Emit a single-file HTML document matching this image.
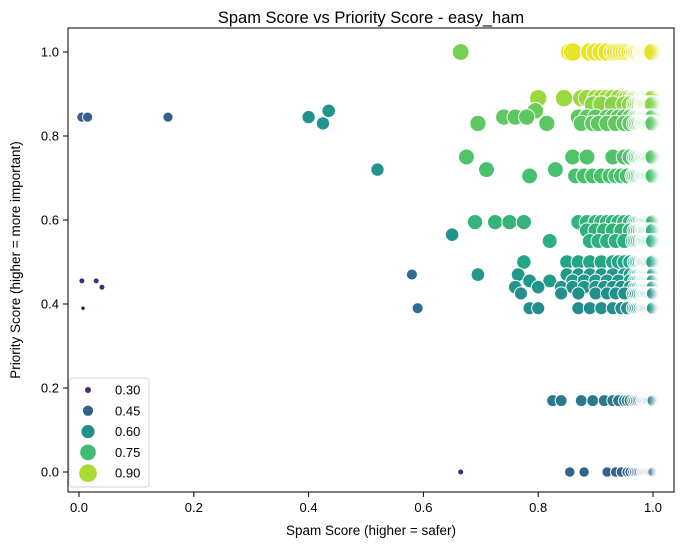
<!DOCTYPE html>
<html><head><meta charset="utf-8"><style>
html,body{margin:0;padding:0;background:#fff;}
svg text{font-family:"Liberation Sans","DejaVu Sans",sans-serif;}
</style></head><body>
<svg id="chart" width="691" height="547" viewBox="0 0 691 547" xmlns="http://www.w3.org/2000/svg">
<rect width="691" height="547" fill="#fff"/>
<text x="371" y="23" text-anchor="middle" font-size="16.5">Spam Score vs Priority Score - easy_ham</text>
<g id="points"></g>
<rect x="68" y="28" width="606" height="464" fill="none" stroke="#000" stroke-width="1"/>
<g id="xticks"></g>
<g id="yticks"></g>
<text x="371" y="535" text-anchor="middle" font-size="13.5">Spam Score (higher = safer)</text>
<text transform="translate(20,260) rotate(-90)" text-anchor="middle" font-size="13.5">Priority Score (higher = more important)</text>
<g id="legend"></g>
</svg>
<script>
const rowPriority = [1.0,1.0,0.89,0.875,0.86,0.86,0.845,0.845,0.845,0.83,0.83,0.75,0.72,0.72,0.705,0.595,0.575,0.565,0.55,0.5,0.47,0.47,0.455,0.44,0.455,0.44,0.425,0.39,0.39,0.39,0.17,0.0,0.0];
const rowHue = [0.97,0.84,0.88,0.86,0.62,0.82,0.45,0.61,0.8,0.61,0.8,0.78,0.61,0.77,0.77,0.73,0.72,0.62,0.71,0.68,0.49,0.63,0.3,0.3,0.64,0.62,0.6,0.2,0.49,0.6,0.53,0.3,0.46];
const rowSpam = [
[0.855,0.86,0.89,0.9,0.91,0.92,0.93,0.935,0.94,0.945,0.95,0.955,0.96,0.965,0.97],
[0.665],
[0.80,0.845,0.875,0.885,0.9,0.91,0.92,0.93,0.94,0.95,0.955,0.96,0.965],
[0.895,0.91,0.93,0.95,0.96],
[0.435],
[0.795],
[0.005,0.015,0.155],
[0.40],
[0.74,0.76,0.78,0.87,0.885,0.9,0.92,0.93,0.94,0.95,0.96],
[0.425],
[0.695,0.815,0.875,0.895,0.905,0.92,0.935,0.95,0.96],
[0.675,0.86,0.885,0.93,0.95,0.96],
[0.52],
[0.71,0.83],
[0.785,0.865,0.88,0.895,0.91,0.925,0.935,0.945,0.955,0.965],
[0.69,0.725,0.75,0.775,0.87,0.885,0.9,0.91,0.92,0.93,0.94,0.95,0.96],
[0.885,0.9,0.915,0.93,0.945,0.96],
[0.65],
[0.82,0.89,0.905,0.92,0.935,0.95,0.965],
[0.775,0.85,0.87,0.89,0.91,0.93,0.94,0.95,0.96],
[0.58],
[0.695,0.765,0.85,0.87,0.89,0.91,0.93,0.95,0.96],
[0.005,0.03],
[0.04],
[0.785,0.82,0.86,0.88,0.9,0.92,0.94,0.96],
[0.76,0.8,0.84,0.86,0.88,0.9,0.915,0.93,0.945,0.96],
[0.77,0.84,0.87,0.9,0.92,0.935,0.95,0.965],
[0.007],
[0.59],
[0.785,0.80,0.87,0.89,0.91,0.93,0.945,0.955,0.965],
[0.825,0.84,0.875,0.895,0.915,0.93,0.94,0.95,0.955,0.96,0.965],
[0.665],
[0.855,0.88,0.92,0.935,0.945,0.955,0.96,0.965]
];
const rowHasTail = [1,0,1,1,0,0,0,0,1,0,1,1,0,0,1,1,1,0,1,1,0,1,0,0,1,1,1,0,0,1,1,0,1];
const denseTail = [0.968,0.971,0.974,0.977,0.98,0.982,0.984,0.986,0.988,0.99,0.992,0.994,0.996,0.998,1.0];
const xTickValues = [0.0,0.2,0.4,0.6,0.8,1.0];
const xTickLabels = ["0.0","0.2","0.4","0.6","0.8","1.0"];
const yTickValues = [0.0,0.2,0.4,0.6,0.8,1.0];
const yTickLabels = ["0.0","0.2","0.4","0.6","0.8","1.0"];
const legendHues = [0.30,0.45,0.60,0.75,0.90];
const legendLabels = ["0.30","0.45","0.60","0.75","0.90"];

const NS = "http://www.w3.org/2000/svg";
function xScale(v){ return 79 + 574*v; }
function yScale(v){ return 472 - 420*v; }
const viridis = ["#440154","#482475","#414487","#355f8d","#2a788e","#21918c","#22a884","#44bf70","#7ad151","#bddf26","#fde725"];
function hex2rgb(h){ return [parseInt(h.slice(1,3),16),parseInt(h.slice(3,5),16),parseInt(h.slice(5,7),16)]; }
function color(h){
  let t = (h-0.213)/(1.0-0.213); t=Math.max(0,Math.min(1,t));
  const p=t*10, i=Math.min(9,Math.floor(p)), f=p-i;
  const a=hex2rgb(viridis[i]), b=hex2rgb(viridis[i+1]);
  return "rgb("+a.map((c,k)=>Math.round(c+(b[k]-c)*f)).join(",")+")";
}
function radius(h){ return Math.sqrt(Math.max(5, 9 + (h-0.3)*115)); }
function fade(x){ return x<=0.96 ? 1 : Math.max(0.03, (1.0-x)/0.04); }

const pts = document.getElementById("points");
function addPoint(x,r){
  const c=document.createElementNS(NS,"circle");
  
  
  c.setAttribute("cx", xScale(x));
  c.setAttribute("cy", yScale(rowPriority[r]));
  c.setAttribute("r", radius(rowHue[r]));
  c.setAttribute("fill", color(rowHue[r]));
  c.setAttribute("fill-opacity", fade(x));
  c.setAttribute("stroke", "#fff");
  c.setAttribute("stroke-width", "1");
  pts.appendChild(c);
}
rowSpam.forEach((xs,r)=>{
  xs.forEach((x)=>addPoint(x,r));
  if(rowHasTail[r]) denseTail.forEach((x)=>addPoint(x,r));
});

const xt=document.getElementById("xticks");
xTickValues.forEach((v,i)=>{
  const l=document.createElementNS(NS,"line");
  
  
  l.setAttribute("x1",xScale(v));l.setAttribute("x2",xScale(v));
  l.setAttribute("y1",492);l.setAttribute("y2",497);
  l.setAttribute("stroke","#000");
  xt.appendChild(l);
  const t=document.createElementNS(NS,"text");
  
  
  t.setAttribute("x",xScale(v));t.setAttribute("y",512);
  t.setAttribute("text-anchor","middle");t.setAttribute("font-size","13");
  t.textContent=xTickLabels[i];
  xt.appendChild(t);
});
const yt=document.getElementById("yticks");
yTickValues.forEach((v,i)=>{
  const l=document.createElementNS(NS,"line");
  
  
  l.setAttribute("x1",63);l.setAttribute("x2",68);
  l.setAttribute("y1",yScale(v));l.setAttribute("y2",yScale(v));
  l.setAttribute("stroke","#000");
  yt.appendChild(l);
  const t=document.createElementNS(NS,"text");
  
  
  t.setAttribute("x",59);t.setAttribute("y",yScale(v)+4.5);
  t.setAttribute("text-anchor","end");t.setAttribute("font-size","13");
  t.textContent=yTickLabels[i];
  yt.appendChild(t);
});

const lg=document.getElementById("legend");
const box=document.createElementNS(NS,"rect");


box.setAttribute("x",69);box.setAttribute("y",378);box.setAttribute("width",80);box.setAttribute("height",109);
box.setAttribute("rx",3);box.setAttribute("fill","#fff");box.setAttribute("fill-opacity","0.8");
box.setAttribute("stroke","#d6d6d6");
lg.appendChild(box);
legendHues.forEach((h,i)=>{
  const y=390+i*20.8;
  const c=document.createElementNS(NS,"circle");
  
  
  c.setAttribute("cx",88);c.setAttribute("cy",y);c.setAttribute("r",radius(h));
  c.setAttribute("fill",color(h));
  lg.appendChild(c);
  const t=document.createElementNS(NS,"text");
  
  
  t.setAttribute("x",115);t.setAttribute("y",y+4.5);t.setAttribute("font-size","13");
  t.textContent=legendLabels[i];
  lg.appendChild(t);
});
</script>
</body></html>
